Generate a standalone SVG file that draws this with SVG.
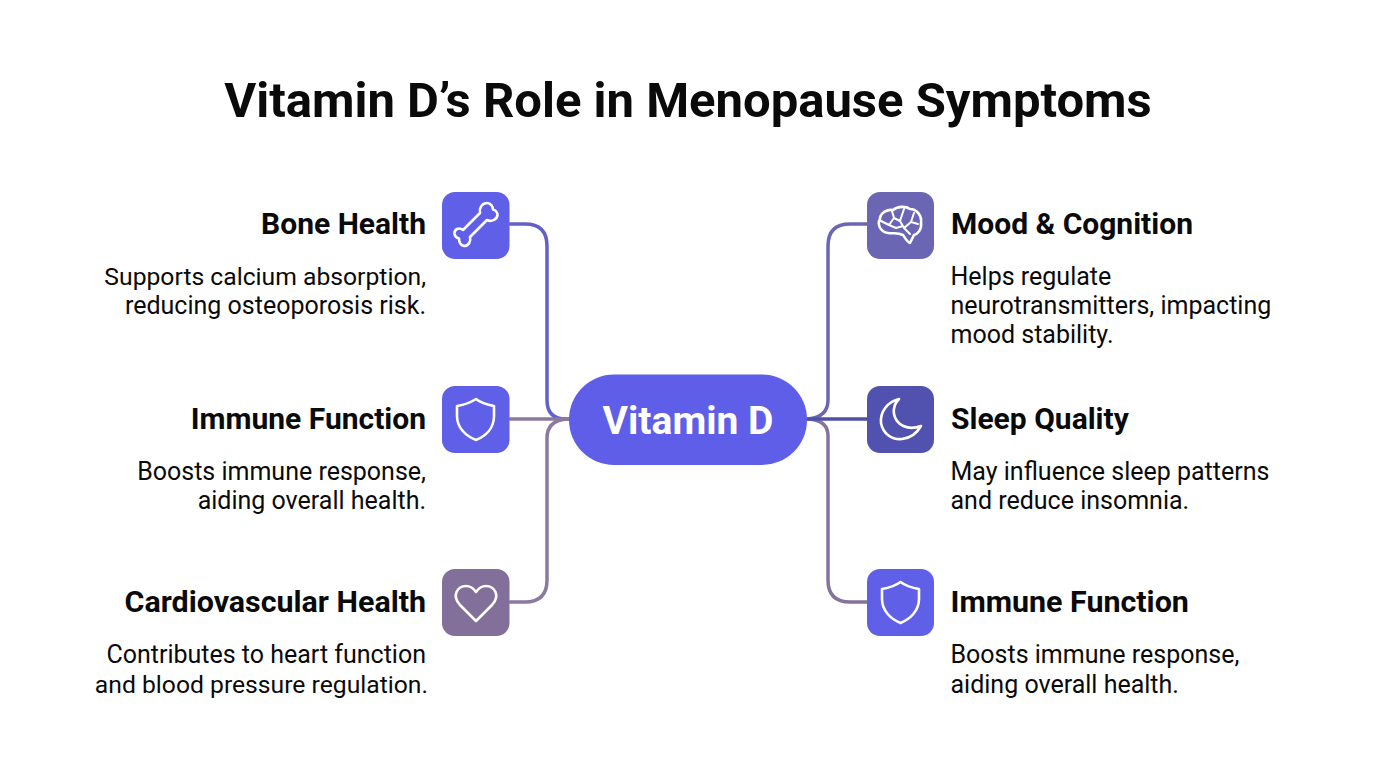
<svg xmlns="http://www.w3.org/2000/svg" width="1376" height="768" viewBox="0 0 1376 768">
<style>
text{font-family:Roboto,"Liberation Sans",sans-serif;fill:#0a0a0a}
.h{font-size:30px;font-weight:700}
.w{font-size:30.4px}
.t{font-size:25px}
.n{font-size:24.7px}
.r{text-anchor:end}
.c{fill:none;stroke-width:3.5;stroke-linecap:round}
.i{fill:none;stroke:#fff;stroke-width:2.6;stroke-linejoin:round;stroke-linecap:round}
.j{stroke-width:2}
</style>
<rect width="1376" height="768" fill="#fff"/>
<text x="688" y="117" text-anchor="middle" style="font-size:49px;font-weight:700">Vitamin D’s Role in Menopause Symptoms</text>
<g id="connectors">
<path class="c" stroke="#6361c8" d="M510 224H525Q547 224 547 246V400Q547 419 566 419H570"/>
<path class="c" stroke="#8b7a9e" d="M510 419H570"/>
<path class="c" stroke="#8b7a9e" d="M510 602H525Q547 602 547 580V438Q547 421 566 419"/>
<path class="c" stroke="#6a66b4" d="M867 224H850Q828 224 828 246V400Q828 417 808 419"/>
<path class="c" stroke="#85749a" d="M867 602H850Q828 602 828 580V436Q828 421 810 419"/>
<path class="c" stroke="#4f50a8" d="M806 419H867"/>
</g>
<g id="center"><rect x="569" y="374.5" width="238" height="90.5" rx="45" fill="#5e5ee8"/><text x="688" y="434" text-anchor="middle" style="font-size:39px;font-weight:700;fill:#fff">Vitamin D</text></g>
<g id="bone"><rect x="442" y="192" width="67.500" height="67" rx="13" fill="#5f5fe8"/>
<path class="i" d="M480 213L463 230C459 227 454 229 454.500 234C455 237 457 238 459 238.500C459 241 460 245 464 246C469 246 471 241 470 237L487 220C491 222 497 220 497.500 215C497.500 212 495 210 493 209.500C493 207 491 203 487 203C482 203 479 208 480 213Z"/>
<text class="h r" x="426" y="234">Bone Health</text><text class="t n r" x="426" y="284.500">Supports calcium absorption,</text><text class="t r" x="426" y="314">reducing osteoporosis risk.</text></g>
<g id="immune-left"><rect x="442" y="386" width="67.500" height="67" rx="13" fill="#5f5fe8"/>
<path class="i" d="M476 399C470 403 463 405 457 406V416C457 428 466 436 476 440C486 436 494 428 494 416V406C488 405 481 403 476 399Z"/>
<text class="h r" x="426" y="429">Immune Function</text><text class="t r" x="426" y="480">Boosts immune response,</text><text class="t r" x="426" y="509">aiding overall health.</text></g>
<g id="cardio"><rect x="442" y="569" width="67.500" height="67" rx="13" fill="#82709a"/>
<path class="i" d="M476 621L460 605C451 595 458 586 466 586C471 586 474 589 476 592C478 589 481 586 486 586C494 586 501 595 492 605Z"/>
<text class="h w r" x="426" y="612">Cardiovascular Health</text><text class="t r" x="426" y="663">Contributes to heart function</text><text class="t n r" x="428" y="692.500">and blood pressure regulation.</text></g>
<g id="mood"><rect x="867" y="192" width="67" height="67" rx="13" fill="#6a66b4"/>
<path class="i" d="M888 233C880 232 877 224 880 219C880 213 887 209 893 210C898 206 906 206 910 209C917 209 922 216 921 223C922 229 918 234 914 235L910 243C908 243 905 238 903 235C897 232 893 234 888 233Z"/>
<path class="i j" d="M881 221L889 225L894 218M892 211L894 218L900 221M904 209L900 221L904 228M914 213L911 222L904 228L910 234M918 224L911 222M889 225L896 228L903 226"/>
<text class="h" x="951" y="234">Mood &amp; Cognition</text><text class="t" x="950.500" y="285">Helps regulate</text><text class="t" x="950.500" y="314">neurotransmitters, impacting</text><text class="t" x="950.500" y="343">mood stability.</text></g>
<g id="sleep"><rect x="867" y="386" width="67" height="67" rx="13" fill="#5152b0"/>
<path class="i" d="M899 399C887 402 880 412 881 423C883 434 892 440 902 439C911 438 917 433 921 426C908 431 896 425 894 414C893 408 895 403 899 399Z"/>
<text class="h" x="951" y="429">Sleep Quality</text><text class="t" x="950.500" y="480">May influence sleep patterns</text><text class="t" x="950.500" y="509">and reduce insomnia.</text></g>
<g id="immune-right"><rect x="867" y="569" width="67" height="67" rx="13" fill="#5f5fe8"/>
<path class="i" d="M900.500 582C895 586 888 588 882 589V599C882 611 891 619 900.500 623C910 619 919 611 919 599V589C913 588 906 586 900.500 582Z"/>
<text class="h w" x="950.500" y="612">Immune Function</text><text class="t" x="950.500" y="663">Boosts immune response,</text><text class="t" x="950.500" y="692.500">aiding overall health.</text></g>
</svg>
